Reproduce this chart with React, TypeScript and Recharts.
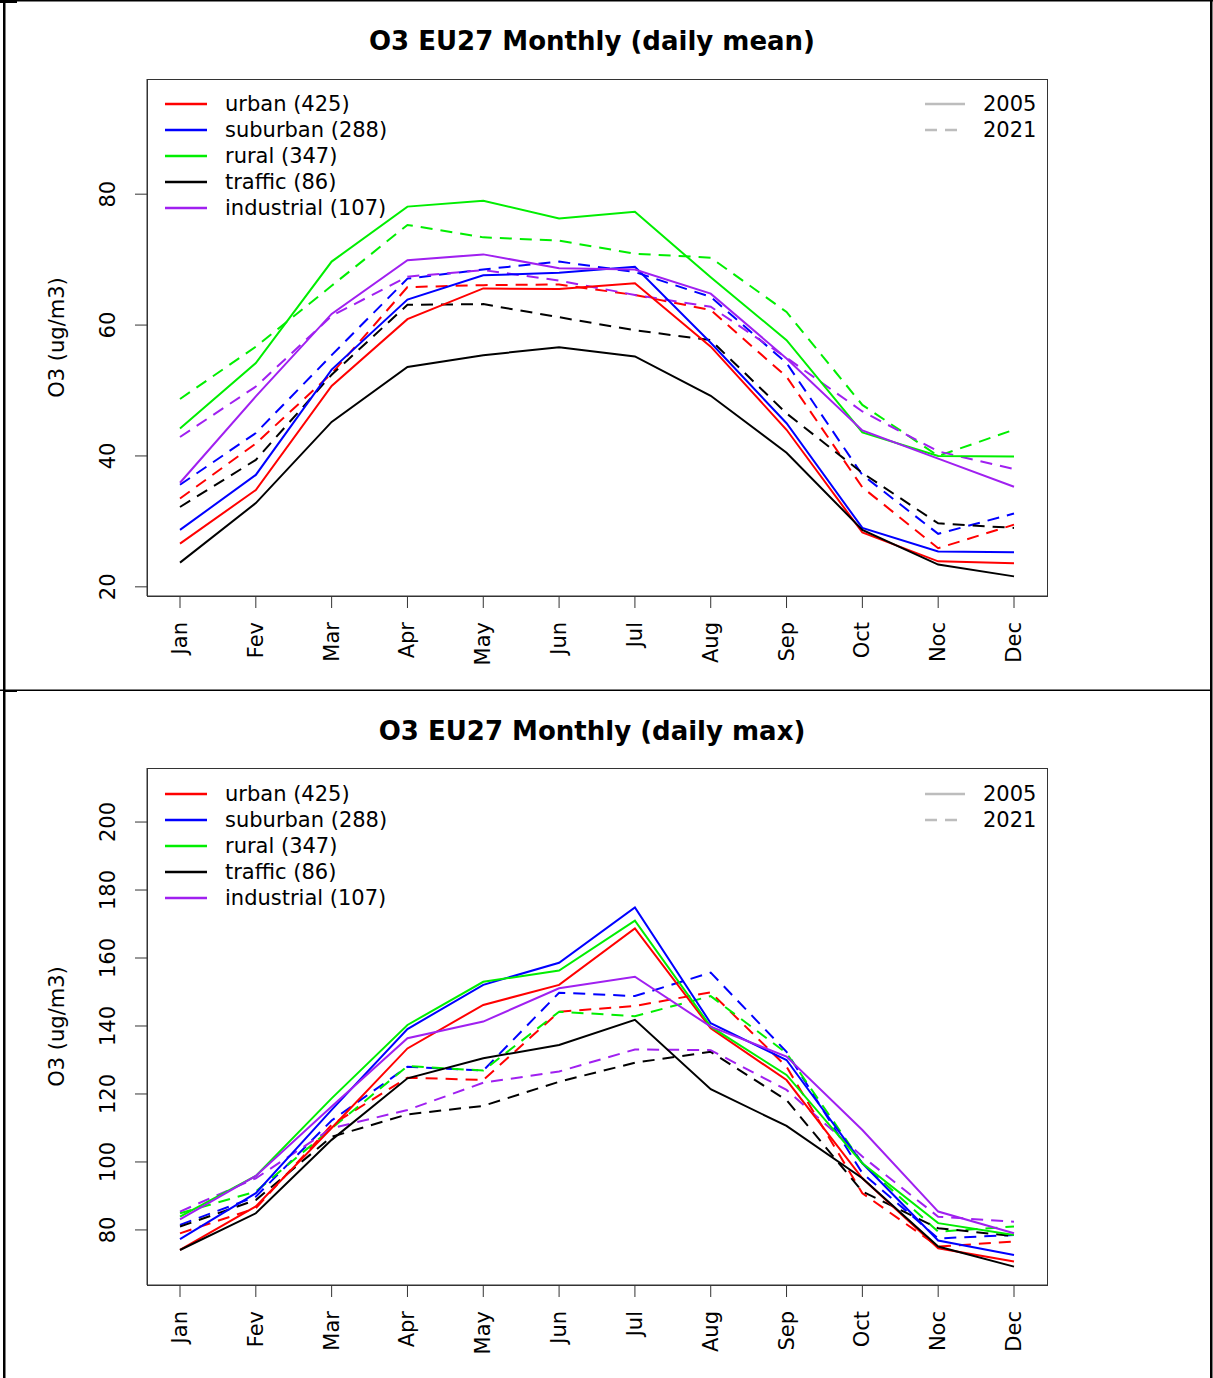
import React from 'react';
import { LineChart, Line, XAxis, YAxis } from 'recharts';

const FONT = '"DejaVu Sans", Verdana, sans-serif';

const months = ['Jan', 'Fev', 'Mar', 'Apr', 'May', 'Jun', 'Jul', 'Aug', 'Sep', 'Oct', 'Noc', 'Dec'];

const stations = [
  { key: 'urban', label: 'urban (425)', color: '#ff0000' },
  { key: 'suburban', label: 'suburban (288)', color: '#0000ff' },
  { key: 'rural', label: 'rural (347)', color: '#00ee00' },
  { key: 'traffic', label: 'traffic (86)', color: '#000000' },
  { key: 'industrial', label: 'industrial (107)', color: '#a020f0' },
];

// daily mean, ug/m3
const meanUrban05 = [26.6, 34.8, 50.7, 60.9, 65.6, 65.5, 66.4, 56.7, 44.0, 28.3, 23.9, 23.6];
const meanUrban21 = [33.5, 41.9, 52.6, 65.8, 66.1, 66.2, 64.6, 62.3, 52.1, 35.2, 25.9, 29.5];
const meanSuburban05 = [28.7, 37.1, 53.2, 63.9, 67.6, 68.0, 68.9, 57.3, 45.0, 29.0, 25.4, 25.3];
const meanSuburban21 = [35.6, 43.5, 55.4, 67.1, 68.5, 69.7, 68.1, 64.3, 54.2, 37.1, 28.1, 31.2];
const meanRural05 = [44.2, 54.2, 69.7, 78.1, 79.0, 76.3, 77.3, 67.3, 57.7, 43.6, 40.0, 39.9];
const meanRural21 = [48.7, 56.7, 66.0, 75.3, 73.4, 72.9, 70.9, 70.3, 62.0, 47.8, 40.0, 44.0];
const meanTraffic05 = [23.7, 32.8, 45.2, 53.6, 55.4, 56.6, 55.2, 49.2, 40.5, 28.7, 23.4, 21.6];
const meanTraffic21 = [32.2, 39.4, 52.4, 63.1, 63.2, 61.2, 59.2, 57.7, 46.5, 37.4, 29.7, 29.0];
const meanIndustrial05 = [35.9, 49.1, 61.7, 69.9, 70.8, 68.7, 68.5, 64.8, 54.9, 43.9, 39.6, 35.3];
const meanIndustrial21 = [42.9, 50.6, 61.4, 67.4, 68.4, 66.8, 64.6, 62.8, 55.0, 46.8, 40.7, 38.0];

// daily max, ug/m3
const maxUrban05 = [74.1, 86.9, 110.0, 133.4, 146.2, 152.1, 168.7, 139.3, 124.1, 95.2, 74.6, 70.7];
const maxUrban21 = [79.0, 86.4, 110.9, 124.8, 124.1, 144.2, 145.9, 149.9, 128.0, 90.8, 75.1, 76.6];
const maxSuburban05 = [77.3, 90.8, 115.3, 139.1, 152.1, 158.6, 174.9, 140.8, 130.0, 99.6, 76.9, 72.6];
const maxSuburban21 = [81.5, 89.8, 112.2, 128.0, 126.9, 149.8, 148.8, 155.7, 132.4, 96.7, 77.5, 78.5];
const maxRural05 = [83.9, 95.9, 118.7, 140.3, 153.0, 156.3, 171.0, 139.8, 125.6, 99.6, 82.0, 78.5];
const maxRural21 = [84.9, 91.3, 109.9, 128.2, 126.9, 144.2, 142.9, 148.8, 132.0, 99.6, 79.5, 81.0];
const maxTraffic05 = [74.1, 84.9, 106.5, 124.6, 130.5, 134.4, 141.8, 121.4, 110.6, 95.2, 75.1, 69.2];
const maxTraffic21 = [81.0, 88.8, 107.4, 114.0, 116.5, 123.6, 129.2, 132.4, 118.2, 91.3, 80.5, 78.2];
const maxIndustrial05 = [83.1, 95.9, 116.3, 136.4, 141.3, 151.1, 154.5, 139.8, 131.0, 109.4, 85.4, 79.0];
const maxIndustrial21 = [85.4, 95.2, 109.9, 115.3, 123.3, 126.6, 133.1, 132.9, 121.2, 101.6, 83.9, 82.4];

const meanTicks = [20, 40, 60, 80];
const maxTicks = [80, 100, 120, 140, 160, 180, 200];

function buildRows(series: Record<string, number[]>) {
  return months.map((m, i) => {
    const row: Record<string, any> = { month: m };
    Object.keys(series).forEach((k) => (row[k] = series[k][i]));
    return row;
  });
}

const meanRows = buildRows({
  urban05: meanUrban05, urban21: meanUrban21,
  suburban05: meanSuburban05, suburban21: meanSuburban21,
  rural05: meanRural05, rural21: meanRural21,
  traffic05: meanTraffic05, traffic21: meanTraffic21,
  industrial05: meanIndustrial05, industrial21: meanIndustrial21,
});

const maxRows = buildRows({
  urban05: maxUrban05, urban21: maxUrban21,
  suburban05: maxSuburban05, suburban21: maxSuburban21,
  rural05: maxRural05, rural21: maxRural21,
  traffic05: maxTraffic05, traffic21: maxTraffic21,
  industrial05: maxIndustrial05, industrial21: maxIndustrial21,
});

const W = 1213;
const BOX_LEFT = 147;
const BOX_RIGHT = 1047;
const Y_AXIS_W = 60;
const X_AXIS_H = 60;
const DASH = '12 8';

const MonthTick = ({ x, y, payload }: any) => (
  <text
    transform={`translate(${x + 7},${y + 12}) rotate(-90)`}
    textAnchor="end"
    fontSize={21}
    fontFamily={FONT}
    fill="#000"
  >
    {payload.value}
  </text>
);

const ValueTick = ({ x, y, payload }: any) => (
  <text
    transform={`translate(${x - 18},${y}) rotate(-90)`}
    textAnchor="middle"
    fontSize={21}
    fontFamily={FONT}
    fill="#000"
  >
    {payload.value}
  </text>
);

interface PanelProps {
  title: string;
  rows: any[];
  domain: [number, number];
  ticks: number[];
  height: number;
  plotTop: number;
  plotBottom: number;
}

function Panel({ title, rows, domain, ticks, height, plotTop, plotBottom }: PanelProps) {
  const midY = (plotTop + plotBottom) / 2;
  return (
    <div style={{ position: 'relative', width: W, height }}>
      <LineChart
        width={W}
        height={height}
        data={rows}
        margin={{
          top: plotTop,
          right: W - BOX_RIGHT,
          left: BOX_LEFT - Y_AXIS_W,
          bottom: height - plotBottom - X_AXIS_H,
        }}
      >
        <XAxis
          dataKey="month"
          height={X_AXIS_H}
          padding={{ left: 33, right: 33 }}
          tickSize={12}
          tick={<MonthTick />}
          interval={0}
          stroke="#333"
        />
        <YAxis
          domain={domain}
          ticks={ticks}
          width={Y_AXIS_W}
          tickSize={12}
          tick={<ValueTick />}
          stroke="#333"
          allowDataOverflow
        />
        {stations.map((s) => (
          <Line
            key={s.key + '21'}
            dataKey={s.key + '21'}
            stroke={s.color}
            strokeWidth={2}
            strokeDasharray={DASH}
            dot={false}
            activeDot={false}
            isAnimationActive={false}
          />
        ))}
        {stations.map((s) => (
          <Line
            key={s.key + '05'}
            dataKey={s.key + '05'}
            stroke={s.color}
            strokeWidth={2}
            dot={false}
            activeDot={false}
            isAnimationActive={false}
          />
        ))}
      </LineChart>

      {/* plot frame, title, axis title and the two legends */}
      <svg
        width={W}
        height={height}
        style={{ position: 'absolute', left: 0, top: 0, pointerEvents: 'none' }}
        fontFamily={FONT}
      >
        <rect
          x={BOX_LEFT + 0.5}
          y={plotTop + 0.5}
          width={BOX_RIGHT - BOX_LEFT}
          height={plotBottom - plotTop}
          fill="none"
          stroke="#333"
          strokeWidth={1}
        />
        <text x={592} y={50} textAnchor="middle" fontSize={26} fontWeight="bold" fill="#000">
          {title}
        </text>
        <text
          transform={`translate(64,${midY}) rotate(-90)`}
          textAnchor="middle"
          fontSize={21}
          fill="#000"
        >
          O3 (ug/m3)
        </text>
        {stations.map((s, i) => (
          <g key={s.key}>
            <line x1={165} x2={207} y1={104 + i * 26} y2={104 + i * 26} stroke={s.color} strokeWidth={2.5} />
            <text x={225} y={111 + i * 26} fontSize={21} fill="#000">
              {s.label}
            </text>
          </g>
        ))}
        {['2005', '2021'].map((yr, i) => (
          <g key={yr}>
            <line
              x1={925}
              x2={965}
              y1={104 + i * 26}
              y2={104 + i * 26}
              stroke="#bdbdbd"
              strokeWidth={2.5}
              strokeDasharray={i === 1 ? DASH : undefined}
            />
            <text x={983} y={111 + i * 26} fontSize={21} fill="#000">
              {yr}
            </text>
          </g>
        ))}
      </svg>
    </div>
  );
}

export default function App() {
  return (
    <div style={{ position: 'absolute', left: 0, top: 0, width: W, height: 1378, background: '#fff' }}>
      <div style={{ position: 'absolute', left: 0, top: 0 }}>
        <Panel
          title="O3 EU27 Monthly (daily mean)"
          rows={meanRows}
          domain={[18.6, 97.6]}
          ticks={meanTicks}
          height={690}
          plotTop={79}
          plotBottom={596}
        />
      </div>
      <div style={{ position: 'absolute', left: 0, top: 690 }}>
        <Panel
          title="O3 EU27 Monthly (daily max)"
          rows={maxRows}
          domain={[63.8, 215.9]}
          ticks={maxTicks}
          height={688}
          plotTop={78}
          plotBottom={595}
        />
      </div>
      {/* frame lines around the two panels */}
      <svg width={W} height={1378} style={{ position: 'absolute', left: 0, top: 0, pointerEvents: 'none' }}>
        <rect x={0} y={0} width={W} height={1.5} fill="#000" />
        <rect x={0} y={0} width={17} height={3} fill="#000" />
        <rect x={3} y={0} width={2.5} height={1378} fill="#000" />
        <rect x={1210} y={0} width={2.5} height={1378} fill="#000" />
        <rect x={0} y={689.5} width={1211} height={1.5} fill="#000" />
        <rect x={3} y={690} width={14} height={2} fill="#000" />
      </svg>
    </div>
  );
}
